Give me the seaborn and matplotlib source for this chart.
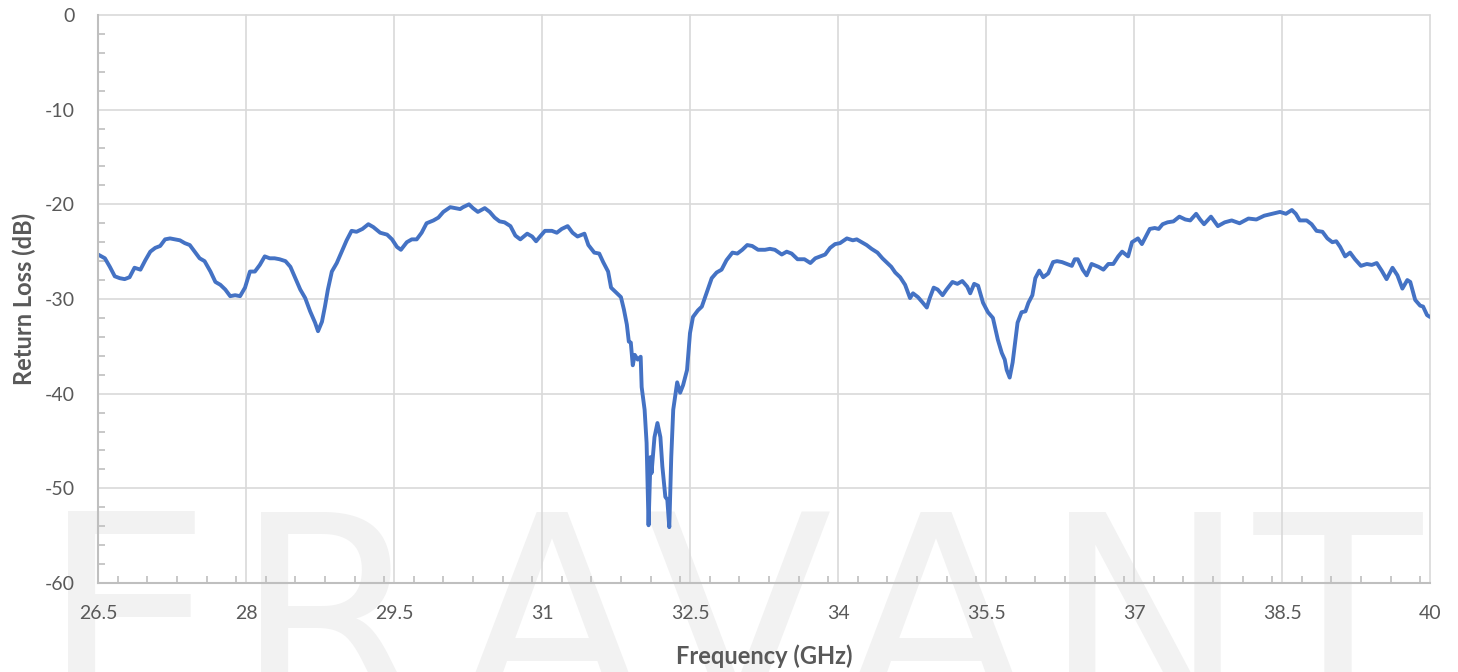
import matplotlib
matplotlib.use("Agg")
import matplotlib.pyplot as plt
import pandas as pd
import seaborn as sns
from matplotlib.ticker import MultipleLocator

sns.set_style("white")
plt.rcParams["font.family"] = ["Lato", "DejaVu Sans"]
plt.rcParams["axes.unicode_minus"] = False

# frequency (GHz) and return loss (dB)
freq = [26.50, 26.57, 26.62, 26.67, 26.72, 26.77, 26.82, 26.87, 26.93, 26.98,
        27.03, 27.08, 27.13, 27.18, 27.23, 27.28, 27.33, 27.38, 27.43, 27.48,
        27.53, 27.58, 27.64, 27.69, 27.74, 27.79, 27.84, 27.89, 27.94, 27.99,
        28.04, 28.09, 28.14, 28.19, 28.24, 28.29, 28.34, 28.40, 28.45, 28.50,
        28.55, 28.60, 28.65, 28.70, 28.73, 28.77, 28.80, 28.83, 28.87, 28.92,
        28.97, 29.02, 29.07, 29.12, 29.18, 29.24, 29.29, 29.36, 29.43, 29.48,
        29.53, 29.57, 29.63, 29.68, 29.73, 29.78, 29.83, 29.90, 29.95, 30.00,
        30.07, 30.12, 30.17, 30.20, 30.26, 30.30, 30.35, 30.42, 30.47, 30.52,
        30.57, 30.62, 30.68, 30.73, 30.78, 30.85, 30.90, 30.94, 30.98, 31.03,
        31.10, 31.15, 31.20, 31.26, 31.31, 31.36, 31.43, 31.47, 31.53, 31.58,
        31.62, 31.67, 31.70, 31.75, 31.80, 31.83, 31.86, 31.88, 31.90, 31.92,
        31.94, 31.97, 32.00, 32.01, 32.04, 32.06, 32.08, 32.10, 32.11, 32.14,
        32.17, 32.20, 32.22, 32.25, 32.27, 32.29, 32.31, 32.33, 32.37, 32.40,
        32.43, 32.47, 32.50, 32.53, 32.58, 32.62, 32.65, 32.68, 32.72, 32.77,
        32.82, 32.87, 32.93, 32.98, 33.03, 33.08, 33.13, 33.19, 33.26, 33.31,
        33.36, 33.43, 33.48, 33.53, 33.59, 33.66, 33.72, 33.77, 33.82, 33.87,
        33.92, 33.97, 34.02, 34.09, 34.15, 34.19, 34.24, 34.29, 34.34, 34.40,
        34.45, 34.50, 34.54, 34.58, 34.63, 34.68, 34.73, 34.76, 34.81, 34.86,
        34.90, 34.93, 34.97, 35.01, 35.06, 35.10, 35.16, 35.21, 35.26, 35.31,
        35.34, 35.38, 35.42, 35.47, 35.52, 35.57, 35.62, 35.66, 35.69, 35.71,
        35.74, 35.77, 35.79, 35.82, 35.86, 35.90, 35.93, 35.97, 36.00, 36.04,
        36.08, 36.13, 36.18, 36.22, 36.27, 36.32, 36.37, 36.40, 36.43, 36.48,
        36.52, 36.57, 36.64, 36.69, 36.74, 36.79, 36.84, 36.88, 36.94, 36.98,
        37.04, 37.08, 37.12, 37.16, 37.21, 37.25, 37.29, 37.34, 37.40, 37.46,
        37.52, 37.57, 37.63, 37.67, 37.71, 37.78, 37.85, 37.92, 37.99, 38.07,
        38.16, 38.24, 38.32, 38.40, 38.48, 38.54, 38.60, 38.64, 38.68, 38.75,
        38.80, 38.85, 38.91, 38.96, 39.01, 39.05, 39.09, 39.14, 39.19, 39.24,
        39.30, 39.36, 39.41, 39.46, 39.51, 39.56, 39.62, 39.67, 39.72, 39.77,
        39.80, 39.85, 39.90, 39.93, 39.97, 40.00]
return_loss = [-25.3, -25.7, -26.6, -27.6, -27.8, -27.9, -27.7, -26.7, -26.9, -25.9,
               -25.0, -24.6, -24.4, -23.7, -23.6, -23.7, -23.8, -24.1, -24.3, -25.0,
               -25.7, -26.0, -27.1, -28.2, -28.5, -29.0, -29.7, -29.6, -29.7, -28.8,
               -27.1, -27.1, -26.4, -25.5, -25.7, -25.7, -25.8, -26.0, -26.6, -27.8,
               -29.0, -29.9, -31.3, -32.5, -33.4, -32.4, -30.8, -29.0, -27.1, -26.2,
               -25.0, -23.8, -22.8, -22.9, -22.6, -22.1, -22.4, -23.0, -23.2, -23.7,
               -24.5, -24.8, -24.0, -23.7, -23.7, -23.0, -22.0, -21.7, -21.4, -20.8,
               -20.3, -20.4, -20.5, -20.3, -20.0, -20.4, -20.8, -20.4, -20.8, -21.4,
               -21.8, -21.9, -22.3, -23.3, -23.7, -23.1, -23.4, -23.9, -23.4, -22.8,
               -22.8, -23.0, -22.6, -22.3, -23.0, -23.4, -23.1, -24.3, -25.1, -25.2,
               -26.1, -27.1, -28.8, -29.3, -29.8, -31.1, -32.7, -34.5, -34.6, -37.0,
               -35.9, -36.4, -36.1, -39.3, -41.7, -45.2, -53.9, -46.7, -48.4, -44.6,
               -43.1, -44.6, -47.7, -50.9, -51.2, -54.1, -46.7, -41.7, -38.8, -39.9,
               -39.1, -37.5, -33.6, -31.9, -31.2, -30.8, -29.9, -29.0, -27.8, -27.2,
               -26.9, -25.9, -25.1, -25.2, -24.8, -24.3, -24.4, -24.8, -24.8, -24.7,
               -24.8, -25.3, -25.0, -25.2, -25.8, -25.8, -26.2, -25.7, -25.5, -25.3,
               -24.6, -24.2, -24.1, -23.6, -23.8, -23.7, -24.0, -24.3, -24.7, -25.1,
               -25.7, -26.2, -26.6, -27.2, -27.7, -28.5, -29.9, -29.4, -29.8, -30.4,
               -30.9, -29.9, -28.8, -29.0, -29.6, -29.0, -28.2, -28.4, -28.1, -28.7,
               -29.4, -28.4, -28.6, -30.4, -31.4, -32.0, -34.3, -35.7, -36.4, -37.5,
               -38.3, -36.7, -35.0, -32.5, -31.4, -31.3, -30.4, -29.6, -27.8, -27.0,
               -27.7, -27.3, -26.1, -26.0, -26.1, -26.3, -26.5, -25.8, -25.8, -26.9,
               -27.5, -26.3, -26.6, -26.9, -26.3, -26.3, -25.5, -25.0, -25.5, -24.0,
               -23.6, -24.2, -23.4, -22.6, -22.5, -22.6, -22.1, -21.9, -21.8, -21.3,
               -21.6, -21.7, -21.0, -21.6, -22.1, -21.3, -22.3, -21.9, -21.7, -22.0,
               -21.5, -21.6, -21.2, -21.0, -20.8, -21.0, -20.6, -21.0, -21.7, -21.7,
               -22.1, -22.8, -22.9, -23.6, -24.0, -23.9, -24.5, -25.5, -25.1, -25.8,
               -26.5, -26.3, -26.4, -26.2, -27.0, -27.9, -26.7, -27.5, -28.9, -28.0,
               -28.2, -30.1, -30.7, -30.8, -31.7, -31.9]

x_ticks = [26.5, 28, 29.5, 31, 32.5, 34, 35.5, 37, 38.5, 40]
x_tick_labels = ["26.5", "28", "29.5", "31", "32.5", "34", "35.5", "37", "38.5", "40"]
y_ticks = [0, -10, -20, -30, -40, -50, -60]
watermark_letters = ["E", "R", "A", "V", "A", "N", "T"]
watermark_x = [128, 330, 552, 738, 936, 1145, 1338]

df = pd.DataFrame({"freq": freq, "rl": return_loss})

W, H = 1458, 672
fig = plt.figure(figsize=(W / 100, H / 100), dpi=100)

# faint logo behind the plot
for letter, xp in zip(watermark_letters, watermark_x):
    fig.text(xp / W, 1 - 712 / H, letter, ha="center", va="baseline",
             fontsize=198, color="#f2f2f2", family="DejaVu Sans", zorder=-5)

ax = fig.add_axes([98 / W, 1 - 583 / H, (1430 - 98) / W, (583 - 15) / H])
ax.set_facecolor("none")

sns.lineplot(data=df, x="freq", y="rl", ax=ax, color="#4472C4", linewidth=2.8,
             estimator=None, sort=False)

ax.set_xlim(26.5, 40)
ax.set_ylim(-60, 0)
ax.set_xticks(x_ticks)
ax.set_xticklabels(x_tick_labels)
ax.set_yticks(y_ticks)
ax.xaxis.set_minor_locator(MultipleLocator(0.3))
ax.yaxis.set_minor_locator(MultipleLocator(2))

ax.grid(True, which="major", color="#d9d9d9", linewidth=1.2)
ax.set_axisbelow(True)
for gl in ax.get_xgridlines() + ax.get_ygridlines():
    gl.set_clip_on(False)

ax.tick_params(which="both", bottom=True, left=True)
ax.tick_params(which="major", length=0, labelsize=14, labelcolor="#595959")
ax.tick_params(axis="x", which="major", pad=16)
ax.tick_params(axis="y", which="major", pad=17)
ax.tick_params(which="minor", direction="in", length=5, width=1.2, color="#bfbfbf")

for side in ["top", "right"]:
    ax.spines[side].set_visible(False)
for side in ["left", "bottom"]:
    ax.spines[side].set_color("#bfbfbf")
    ax.spines[side].set_linewidth(1.5)

ax.set_xlabel("Frequency (GHz)", fontsize=17, fontweight="bold", color="#595959", labelpad=16)
ax.set_ylabel("Return Loss (dB)", fontsize=17, fontweight="bold", color="#595959", labelpad=6)

fig.savefig("out.png", dpi=100)
